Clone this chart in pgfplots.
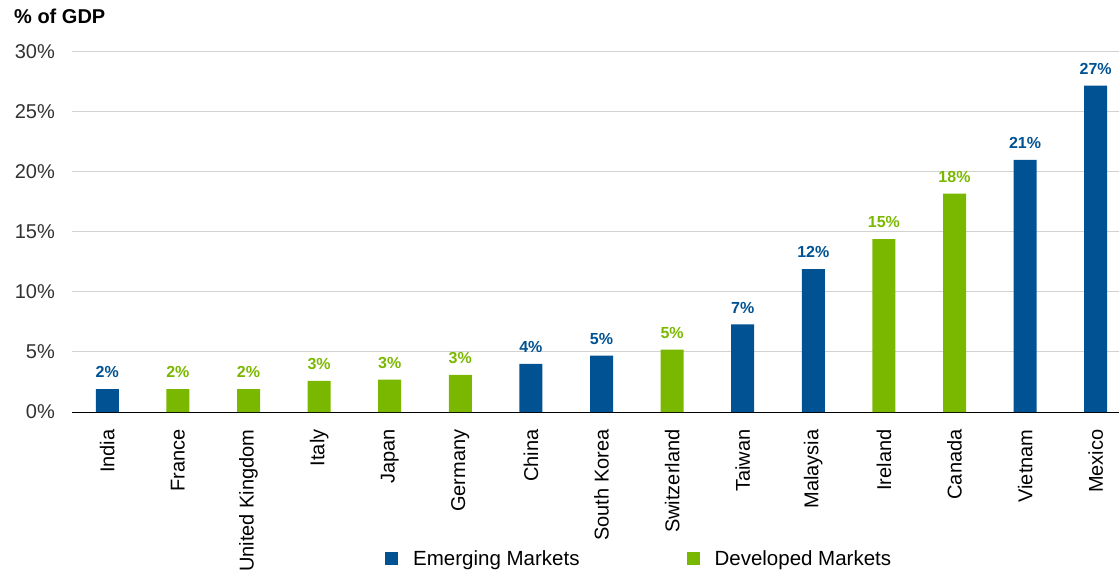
\documentclass[border=0pt]{standalone}
\usepackage{pgfplots}
\usepackage{pgfplotstable}
\pgfplotsset{compat=1.18}
\usepackage{fontspec}
\setmainfont{Liberation Sans}

\definecolor{emblue}{RGB}{0,82,147}
\definecolor{devgreen}{RGB}{122,184,0}
\definecolor{gridgray}{RGB}{210,210,210}
\definecolor{ticktext}{RGB}{50,50,50}

% x = category position, y = % of GDP, lab = printed label
\pgfplotstableread{
x y lab
0 1.9 2
6 4.0 4
7 4.7 5
9 7.3 7
10 11.9 12
13 21.0 21
14 27.2 27
}\emerging

\pgfplotstableread{
x y lab
1 1.9 2
2 1.9 2
3 2.6 3
4 2.7 3
5 3.1 3
8 5.2 5
11 14.4 15
12 18.2 18
}\developed

\begin{document}
\begin{tikzpicture}
\path[use as bounding box] (0,0) rectangle (1119pt,570pt);
\begin{axis}[
    at={(72pt,158pt)}, anchor=south west,
    scale only axis,
    width=1047pt, height=360pt,
    xmin=-0.5, xmax=14.33,
    ymin=0, ymax=30,
    ybar, bar width=23pt, bar shift=0pt,
    axis x line*=bottom, axis y line*=left,
    x axis line style={black, line width=1pt},
    y axis line style={draw=none},
    tick style={draw=none},
    ymajorgrids, grid style={gridgray, line width=1pt},
    ytick={0,5,...,30},
    yticklabels={0\%,5\%,10\%,15\%,20\%,25\%,30\%},
    yticklabel style={inner sep=0pt, xshift=-17pt, text=ticktext,
        font=\fontsize{20}{20}\selectfont},
    xtick={0,...,14},
    xticklabels={India,France,United Kingdom,Italy,Japan,Germany,China,South Korea,Switzerland,Taiwan,Malaysia,Ireland,Canada,Vietnam,Mexico},
    xticklabel style={inner sep=0pt, yshift=-13pt, rotate=90, anchor=east,
        text=black, font=\fontsize{20}{20}\selectfont},
    title={\% of GDP},
    title style={at={(axis description cs:-0.0554,1.0833)}, anchor=west,
        inner sep=0pt, font=\bfseries\fontsize{20}{20}\selectfont},
    point meta=explicit symbolic,
    nodes near coords={\pgfplotspointmeta\%},
    every node near coord/.append style={anchor=south, inner sep=0pt, yshift=11pt,
        font=\bfseries\fontsize{16}{16}\selectfont},
    legend columns=2,
    legend style={draw=none, fill=none, inner sep=0pt,
        at={(axis description cs:0.299,-0.408)}, anchor=west,
        font=\fontsize{20.5}{20.5}\selectfont,
        /tikz/every odd column/.append style={column sep=13pt},
        /tikz/every even column/.append style={column sep=105pt}},
    legend image code/.code={\fill[#1] (0pt,-6.5pt) rectangle (13pt,6.5pt);},
]
\addplot[fill=emblue, draw=none,
    every node near coord/.append style={text=emblue}]
    table[x=x, y=y, meta=lab] {\emerging};
\addlegendentry{Emerging Markets}
\addplot[fill=devgreen, draw=none,
    every node near coord/.append style={text=devgreen}]
    table[x=x, y=y, meta=lab] {\developed};
\addlegendentry{Developed Markets}
\end{axis}
\end{tikzpicture}
\end{document}
